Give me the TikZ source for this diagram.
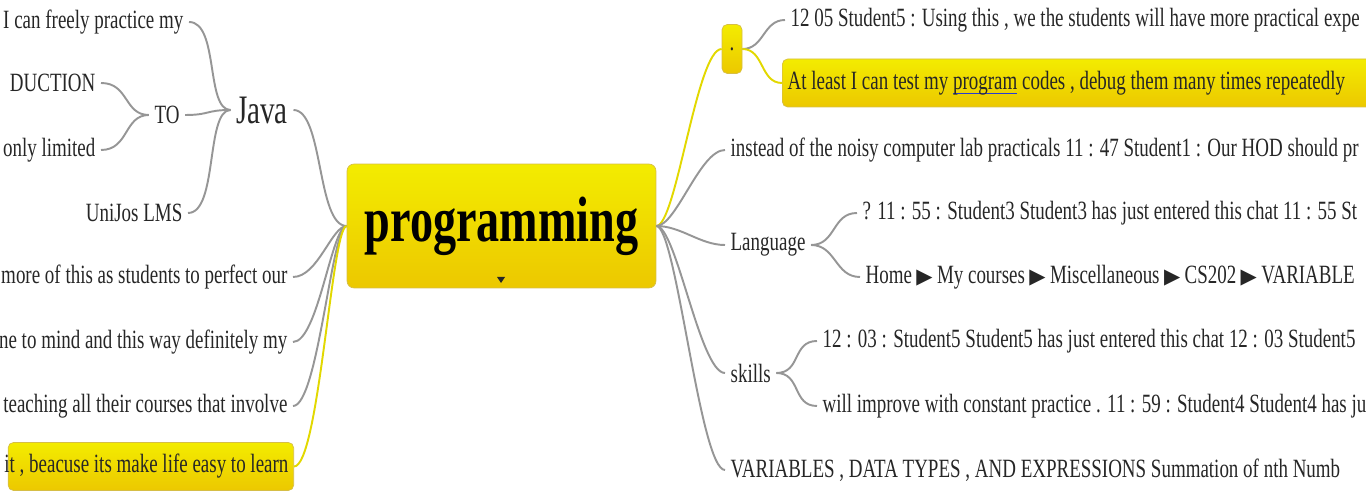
\documentclass[tikz,border=0pt]{standalone}
\usepackage{fontspec}
\newfontfamily\mapfont[FakeStretch=0.72]{Liberation Serif}
\newfontfamily\symfont{DejaVu Sans}
\usepackage{xcolor}
\usepackage{tikz}
\usetikzlibrary{positioning}
\definecolor{mapyellow}{RGB}{243,236,0}
\definecolor{mapgold}{RGB}{236,200,0}
\definecolor{boxedge}{RGB}{214,190,70}
\definecolor{linkgray}{RGB}{150,150,150}
\definecolor{linkyellow}{RGB}{226,216,0}
\definecolor{textgray}{RGB}{38,38,38}
\definecolor{linkblue}{RGB}{40,60,210}
\tikzset{
  topic/.style={font=\mapfont\fontsize{15}{17}\selectfont,text=textgray,
    inner xsep=3pt,inner ysep=1pt},
  lefttopic/.style={topic,anchor=east},
  righttopic/.style={topic,anchor=west},
  hitopic/.style={topic,draw=boxedge,rounded corners=3pt,
    top color=mapyellow,bottom color=mapgold,minimum height=0.96cm},
  centrebox/.style={draw=boxedge,rounded corners=4pt,top color=mapyellow,
    bottom color=mapgold,minimum width=6.18cm,minimum height=2.48cm,
    font=\mapfont\bfseries\fontsize{36.5}{40}\selectfont,text=black},
  branch/.style={draw=linkgray,line width=1.1pt},
  hibranch/.style={draw=linkyellow,line width=1.1pt}
}
\newcommand{\crumb}{\,{\symfont\fontsize{12}{12}\selectfont ▶}\,}
\newcommand{\weblink}[1]{\setbox0\hbox{#1}\rlap{\color{linkblue}\rule[-2.6pt]{\wd0}{0.7pt}}\box0\relax}

\begin{document}
\begin{tikzpicture}[x=0.02cm,y=-0.02cm]
  \useasboundingbox (0,0) rectangle (1366,492);
  \clip (0,0) rectangle (1366,492);

  % central topic
  \node[centrebox] (prog) at (501.5,226) {\raisebox{-0.22cm}{programming}};
  \fill[black!85] (497,277) -- (505,277) -- (501,283) -- cycle;

  % left side
  \node[topic,font=\mapfont\fontsize{23}{26}\selectfont] (java) at (262,110) {Java};
  \node[lefttopic] (freely) at (189,22) {I can freely practice my};
  \node[topic] (to) at (167,115) {TO};
  \node[lefttopic] (unijos) at (188,213) {UniJos LMS};
  \node[lefttopic] (duction) at (101,83) {DUCTION};
  \node[lefttopic] (limited) at (101,150) {only limited};
  \node[lefttopic] (moreof) at (293,277) {more of this as students to perfect our};
  \node[lefttopic] (mindway) at (293,342) {ne to mind and this way definitely my};
  \node[lefttopic] (teaching) at (293,406) {teaching all their courses that involve};
  \node[hitopic,anchor=east] (easy) at (294,466.5)
    {\hbox to 5.5cm{\hss it , beacuse its make life easy to learn}};

  % right side
  \node[hitopic,minimum width=0.4cm,minimum height=0.98cm,inner sep=0pt] (dot) at (732,49) {.};
  \node[righttopic] (using) at (785,20)
    {12 05 Student5 : Using this , we the students will have more practical expe};
  \node[hitopic,anchor=west] (atleast) at (782,83)
    {\hbox to 13cm{At least I can test my \weblink{program} codes , debug them many times repeatedly\hss}};
  \node[righttopic] (noisy) at (725,150)
    {instead of the noisy computer lab practicals 11 : 47 Student1 : Our HOD should pr};
  \node[righttopic] (language) at (725,245) {Language};
  \node[righttopic] (student3) at (857,213)
    {? 11 : 55 : Student3 Student3 has just entered this chat 11 : 55 St};
  \node[righttopic] (home) at (860,277)
    {Home\crumb My courses\crumb Miscellaneous\crumb CS202\crumb VARIABLE};
  \node[righttopic] (skills) at (725,373) {skills};
  \node[righttopic] (student5) at (817,341)
    {12 : 03 : Student5 Student5 has just entered this chat 12 : 03 Student5};
  \node[righttopic] (improve) at (817,406)
    {will improve with constant practice . 11 : 59 : Student4 Student4 has ju};
  \node[righttopic] (variables) at (725,470)
    {VARIABLES , DATA TYPES , AND EXPRESSIONS Summation of nth Numb};

  % connectors, left
  \draw[branch] (freely.east) .. controls +(30,0) and +(-25,0) .. (java.west);
  \draw[branch] (to.east) .. controls +(25,0) and +(-25,0) .. (java.west);
  \draw[branch] (unijos.east) .. controls +(30,0) and +(-25,0) .. (java.west);
  \draw[branch] (duction.east) .. controls +(28,0) and +(-25,0) .. (to.west);
  \draw[branch] (limited.east) .. controls +(28,0) and +(-25,0) .. (to.west);
  \draw[branch] (java.east) .. controls +(30,0) and +(-30,0) .. (prog.west);
  \draw[branch] (moreof.east) .. controls +(25,0) and +(-15,0) .. (prog.west);
  \draw[branch] (mindway.east) .. controls +(25,0) and +(-15,0) .. (prog.west);
  \draw[branch] (teaching.east) .. controls +(25,0) and +(-15,0) .. (prog.west);
  \draw[hibranch] (easy.east) .. controls +(25,0) and +(-15,0) .. (prog.west);

  % connectors, right
  \draw[hibranch] (prog.east) .. controls +(20,0) and +(-25,0) .. (dot.west);
  \draw[branch] (dot.east) .. controls +(22,0) and +(-22,0) .. (using.west);
  \draw[hibranch] (dot.east) .. controls +(22,0) and +(-22,0) .. (atleast.west);
  \draw[branch] (prog.east) .. controls +(20,0) and +(-25,0) .. (noisy.west);
  \draw[branch] (prog.east) .. controls +(25,0) and +(-25,0) .. (language.west);
  \draw[branch] (prog.east) .. controls +(20,0) and +(-25,0) .. (skills.west);
  \draw[branch] (prog.east) .. controls +(20,0) and +(-25,0) .. (variables.west);
  \draw[branch] (language.east) .. controls +(25,0) and +(-25,0) .. (student3.west);
  \draw[branch] (language.east) .. controls +(25,0) and +(-25,0) .. (home.west);
  \draw[branch] (skills.east) .. controls +(25,0) and +(-25,0) .. (student5.west);
  \draw[branch] (skills.east) .. controls +(25,0) and +(-25,0) .. (improve.west);
\end{tikzpicture}
\end{document}
